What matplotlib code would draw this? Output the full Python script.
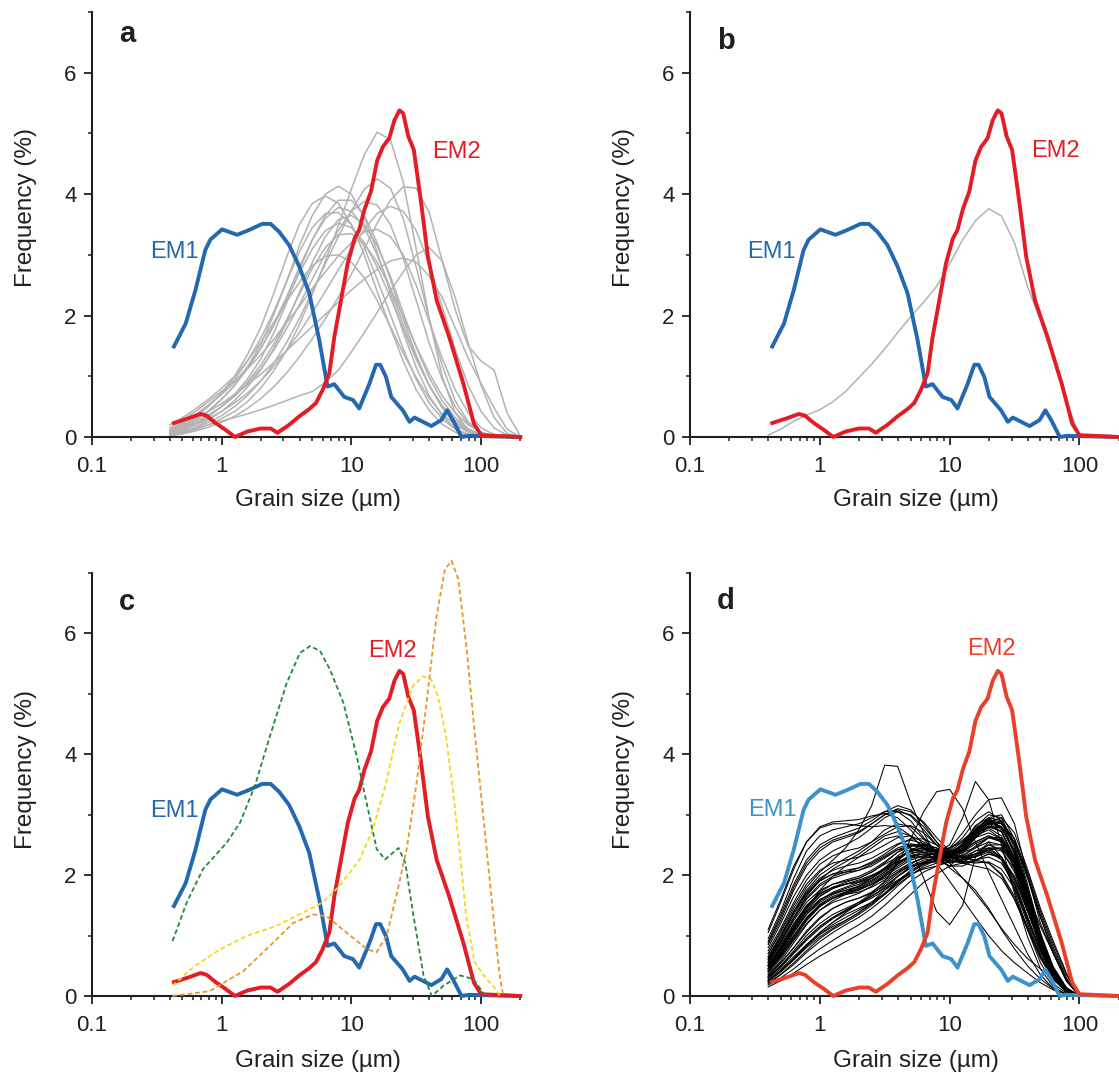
import matplotlib
matplotlib.use("Agg")
import matplotlib.pyplot as plt
from matplotlib.ticker import FixedLocator, NullFormatter

plt.rcParams['font.family'] = ['Liberation Sans', 'DejaVu Sans']

# ---- end members ----
em1_x = [0.43, 0.53, 0.63, 0.75, 0.82, 1.01, 1.32, 1.63, 2.06, 2.39, 2.78, 3.32, 3.97, 4.74, 5.66,
         6.56, 7.39, 8.83, 10.3, 11.5, 13.8, 15.5, 16.7, 18.5, 20.3, 24.9, 28.1, 30.7, 35.6, 41.3,
         49.4, 54.7, 60.9, 70.6, 80, 200]
em1_y = [1.49, 1.87, 2.42, 3.08, 3.25, 3.42, 3.33, 3.41, 3.51, 3.51, 3.38, 3.16, 2.81, 2.37, 1.60,
         0.83, 0.87, 0.66, 0.61, 0.47, 0.88, 1.19, 1.19, 0.99, 0.66, 0.44, 0.25, 0.32, 0.25, 0.18,
         0.28, 0.44, 0.27, 0.0, 0.02, 0.0]

em2_x = [0.43, 0.56, 0.69, 0.77, 0.90, 1.07, 1.27, 1.58, 2.0, 2.39, 2.70, 3.32, 3.97, 4.74, 5.34,
         6.0, 6.77, 7.4, 8.34, 9.38, 10.6, 11.5, 12.6, 14.2, 15.8, 17.5, 19.6, 21.5, 23.5, 25.1,
         27.5, 30.3, 34.3, 38.9, 45.5, 56.7, 73, 88, 100, 200]
em2_y = [0.23, 0.31, 0.38, 0.35, 0.23, 0.12, 0.0, 0.09, 0.14, 0.14, 0.07, 0.20, 0.34, 0.46, 0.56,
         0.77, 1.05, 1.65, 2.26, 2.86, 3.27, 3.41, 3.74, 4.05, 4.55, 4.78, 4.92, 5.22, 5.38, 5.33,
         4.95, 4.73, 3.90, 2.97, 2.25, 1.65, 0.88, 0.22, 0.03, 0.0]

# ---- panel a / b: sample curves on a common size grid ----
grid = [0.4, 0.5, 0.63, 0.79, 1.0, 1.26, 1.58, 2.0, 2.51, 3.16, 3.98, 5.01, 6.31, 7.94,
        10.0, 12.6, 15.8, 20.0, 25.1, 31.6, 39.8, 50.1, 63.1, 79.4, 100, 126, 158, 200]

a01 = [0.05, 0.15, 0.27, 0.42, 0.62, 0.85, 1.15, 1.52, 2.0, 2.55, 3.15, 3.65, 4.0, 4.13, 4.0, 3.62, 3.05, 2.38, 1.72, 1.15, 0.68, 0.35, 0.14, 0.04, 0, 0, 0, 0]
a02 = [0.08, 0.18, 0.32, 0.5, 0.72, 1.0, 1.35, 1.8, 2.35, 2.95, 3.5, 3.85, 3.97, 3.85, 3.5, 3.0, 2.4, 1.8, 1.25, 0.78, 0.44, 0.21, 0.08, 0.02, 0, 0, 0, 0]
a03 = [0.03, 0.1, 0.2, 0.33, 0.5, 0.7, 0.95, 1.28, 1.7, 2.2, 2.75, 3.25, 3.65, 3.9, 3.9, 3.65, 3.2, 2.6, 1.95, 1.35, 0.85, 0.48, 0.22, 0.08, 0.02, 0, 0, 0]
a04 = [0.06, 0.16, 0.28, 0.43, 0.62, 0.85, 1.12, 1.45, 1.85, 2.3, 2.8, 3.25, 3.6, 3.78, 3.72, 3.45, 3.0, 2.45, 1.85, 1.3, 0.85, 0.5, 0.25, 0.1, 0.03, 0, 0, 0]
a05 = [0.1, 0.22, 0.36, 0.52, 0.72, 0.95, 1.25, 1.62, 2.05, 2.55, 3.05, 3.45, 3.68, 3.7, 3.5, 3.12, 2.6, 2.02, 1.45, 0.95, 0.56, 0.3, 0.13, 0.04, 0, 0, 0, 0]
a06 = [0.02, 0.08, 0.16, 0.28, 0.42, 0.6, 0.82, 1.1, 1.45, 1.88, 2.38, 2.88, 3.3, 3.58, 3.65, 3.5, 3.15, 2.65, 2.05, 1.48, 0.98, 0.6, 0.32, 0.14, 0.04, 0, 0, 0]
a07 = [0.12, 0.24, 0.37, 0.52, 0.7, 0.9, 1.15, 1.45, 1.82, 2.25, 2.7, 3.1, 3.4, 3.52, 3.45, 3.2, 2.8, 2.3, 1.78, 1.28, 0.85, 0.52, 0.28, 0.12, 0.04, 0, 0, 0]
a08 = [0.04, 0.12, 0.22, 0.35, 0.5, 0.68, 0.9, 1.18, 1.52, 1.92, 2.35, 2.78, 3.12, 3.33, 3.35, 3.18, 2.88, 2.45, 1.98, 1.5, 1.05, 0.68, 0.4, 0.2, 0.08, 0.02, 0, 0]
a09 = [0.2, 0.32, 0.46, 0.62, 0.8, 1.0, 1.25, 1.55, 1.88, 2.22, 2.55, 2.82, 2.98, 3.0, 2.88, 2.62, 2.25, 1.82, 1.38, 0.98, 0.64, 0.38, 0.2, 0.08, 0.02, 0, 0, 0]
a10 = [0.02, 0.06, 0.12, 0.2, 0.3, 0.42, 0.58, 0.8, 1.08, 1.42, 1.85, 2.35, 2.9, 3.48, 4.08, 4.65, 5.02, 4.9, 4.2, 3.1, 1.95, 1.0, 0.4, 0.12, 0.02, 0, 0, 0]
a11 = [0.03, 0.08, 0.15, 0.24, 0.35, 0.5, 0.68, 0.92, 1.2, 1.55, 1.95, 2.4, 2.85, 3.3, 3.72, 4.08, 4.25, 4.1, 3.6, 2.8, 1.95, 1.18, 0.6, 0.25, 0.07, 0, 0, 0]
a12 = [0.15, 0.28, 0.42, 0.58, 0.75, 0.92, 1.12, 1.35, 1.6, 1.88, 2.15, 2.45, 2.72, 2.98, 3.2, 3.38, 3.42, 3.3, 3.0, 2.5, 1.9, 1.3, 0.78, 0.4, 0.15, 0.04, 0, 0]
a13 = [0.06, 0.14, 0.24, 0.36, 0.5, 0.67, 0.88, 1.12, 1.42, 1.78, 2.18, 2.6, 3.02, 3.4, 3.72, 3.88, 3.82, 3.5, 2.95, 2.25, 1.55, 0.95, 0.5, 0.22, 0.07, 0, 0, 0]
a14 = [0.02, 0.05, 0.1, 0.16, 0.24, 0.34, 0.47, 0.63, 0.82, 1.05, 1.32, 1.62, 1.95, 2.3, 2.68, 3.1, 3.52, 3.9, 4.12, 4.1, 3.7, 2.9, 2.1, 1.5, 1.25, 1.1, 0.4, 0.02]
a15 = [0.05, 0.12, 0.2, 0.3, 0.42, 0.56, 0.72, 0.92, 1.15, 1.42, 1.72, 2.05, 2.4, 2.75, 3.1, 3.42, 3.68, 3.8, 3.72, 3.4, 2.85, 2.15, 1.45, 0.85, 0.42, 0.15, 0.03, 0]
a16 = [0.03, 0.08, 0.13, 0.2, 0.26, 0.32, 0.38, 0.45, 0.52, 0.6, 0.68, 0.75, 0.9, 1.1, 1.4, 1.72, 2.05, 2.4, 2.72, 3.0, 3.12, 2.9, 2.3, 1.55, 0.85, 0.32, 0.06, 0]
a17 = [0.1, 0.2, 0.3, 0.42, 0.55, 0.7, 0.86, 1.03, 1.22, 1.42, 1.62, 1.82, 2.02, 2.22, 2.42, 2.6, 2.76, 2.9, 2.95, 2.88, 2.65, 2.3, 1.8, 1.3, 0.88, 0.48, 0.13, 0]
samples_a = [a01, a02, a03, a04, a05, a06, a07, a08, a09, a10, a11, a12, a13, a14, a15, a16, a17]

b_gray = [0.03, 0.13, 0.26, 0.36, 0.45, 0.58, 0.75, 0.98, 1.2, 1.45, 1.72, 1.98, 2.22, 2.48, 2.85, 3.25, 3.56, 3.76, 3.64, 3.2, 2.48, 1.92, 1.3, 0.58, 0.03, 0, 0, 0]

# ---- panel c: dashed reference curves ----
green_x = [0.42, 0.54, 0.72, 1.10, 1.39, 1.81, 2.36, 3.18, 4.03, 4.81, 5.74, 6.86, 8.69, 11.0, 13.1,
           15.7, 18.2, 23.1, 26.0, 30.1, 36.0, 41.7, 51.3, 68.9, 87.3, 107, 120]
green_y = [0.91, 1.55, 2.10, 2.54, 2.87, 3.48, 4.30, 5.18, 5.68, 5.79, 5.71, 5.40, 4.85, 3.97, 3.20,
           2.43, 2.26, 2.45, 2.21, 1.33, 0.34, 0.0, 0.17, 0.34, 0.28, 0.01, 0.0]
yellow_x = [0.42, 0.60, 0.97, 1.55, 2.64, 4.24, 6.04, 8.11, 11.6, 14.6, 18.5, 23.5, 29.8, 35.6, 41.2,
            46.4, 53.7, 60.5, 68.1, 76.6, 88.9, 109, 125, 140]
yellow_y = [0.17, 0.47, 0.77, 0.99, 1.16, 1.38, 1.55, 1.82, 2.26, 2.75, 3.52, 4.52, 5.13, 5.29, 5.24,
            4.96, 4.30, 3.42, 2.43, 1.33, 0.56, 0.29, 0.15, 0.0]
orange_x = [0.42, 0.81, 1.47, 2.36, 3.57, 5.09, 6.45, 9.19, 13.1, 15.6, 18.7, 22.3, 26.7, 31.9, 38.0,
            45.4, 52.6, 59.2, 66.7, 77.4, 89.8, 107, 118, 130, 140, 148]
orange_y = [0.0, 0.08, 0.41, 0.83, 1.21, 1.35, 1.32, 1.05, 0.78, 0.72, 1.00, 1.67, 2.43, 3.54, 4.86,
            6.29, 7.06, 7.20, 6.90, 5.74, 4.30, 2.71, 1.80, 0.90, 0.30, 0.0]

# ---- panel d: measured samples ----
grid_d = [0.4, 0.5, 0.63, 0.79, 1.0, 1.26, 1.58, 2.0, 2.51, 3.16, 3.98, 5.01, 6.31, 7.94,
          10.0, 12.6, 15.8, 20.0, 25.1, 31.6, 39.8, 50.1, 63.1, 79.4, 100]

d01 = [1.05, 1.55, 2.1, 2.55, 2.8, 2.88, 2.9, 2.92, 2.98, 3.02, 2.95, 2.75, 2.5, 2.3, 2.2, 2.25, 2.4, 2.45, 2.3, 1.85, 1.25, 0.7, 0.3, 0.08, 0.0]
d02 = [0.95, 1.4, 1.95, 2.4, 2.65, 2.75, 2.8, 2.85, 2.95, 3.05, 3.05, 2.9, 2.62, 2.38, 2.25, 2.2, 2.22, 2.2, 2.0, 1.6, 1.1, 0.62, 0.27, 0.07, 0.0]
d03 = [0.9, 1.35, 1.85, 2.25, 2.5, 2.62, 2.7, 2.78, 2.9, 3.05, 3.15, 3.08, 2.85, 2.55, 2.3, 2.2, 2.25, 2.35, 2.3, 1.95, 1.4, 0.82, 0.38, 0.1, 0.0]
d04 = [1.1, 1.6, 2.15, 2.55, 2.78, 2.85, 2.85, 2.82, 2.8, 2.82, 2.8, 2.65, 2.45, 2.3, 2.3, 2.45, 2.65, 2.75, 2.6, 2.1, 1.45, 0.8, 0.35, 0.1, 0.0]
d05 = [0.85, 1.25, 1.75, 2.15, 2.4, 2.55, 2.62, 2.7, 2.85, 3.0, 3.1, 3.05, 2.88, 2.62, 2.4, 2.28, 2.3, 2.42, 2.45, 2.2, 1.7, 1.15, 0.7, 0.25, 0.0]
d06 = [0.8, 1.2, 1.65, 2.0, 2.25, 2.4, 2.5, 2.62, 2.78, 2.95, 3.05, 3.0, 2.8, 2.55, 2.32, 2.2, 2.15, 2.1, 1.95, 1.6, 1.12, 0.65, 0.3, 0.08, 0.0]
d07 = [0.7, 1.05, 1.45, 1.8, 2.05, 2.25, 2.45, 2.75, 3.15, 3.82, 3.8, 3.2, 2.7, 2.3, 2.15, 2.2, 2.35, 2.4, 2.25, 1.8, 1.2, 0.65, 0.28, 0.07, 0.0]
d08 = [0.3, 0.5, 0.72, 0.95, 1.15, 1.3, 1.42, 1.55, 1.7, 1.9, 2.2, 2.6, 3.05, 3.38, 3.42, 3.1, 2.55, 2.05, 1.6, 1.15, 0.7, 0.35, 0.12, 0.03, 0.0]
d09 = [0.45, 0.75, 1.1, 1.45, 1.75, 1.98, 2.15, 2.3, 2.45, 2.6, 2.65, 2.45, 1.95, 1.4, 1.18, 1.5, 2.3, 2.55, 2.3, 1.75, 1.1, 0.55, 0.2, 0.05, 0.0]
d10 = [0.25, 0.42, 0.62, 0.85, 1.05, 1.22, 1.38, 1.52, 1.68, 1.85, 2.02, 2.18, 2.3, 2.38, 2.5, 2.95, 3.55, 3.25, 2.5, 1.7, 0.98, 0.45, 0.15, 0.03, 0.0]
d11 = [0.3, 0.5, 0.75, 1.0, 1.2, 1.35, 1.45, 1.55, 1.65, 1.78, 1.92, 2.05, 2.18, 2.3, 2.45, 2.7, 3.0, 3.25, 3.28, 2.85, 2.0, 1.2, 0.7, 0.25, 0.0]
d12 = [0.55, 0.9, 1.3, 1.65, 1.92, 2.1, 2.22, 2.35, 2.5, 2.65, 2.72, 2.65, 2.45, 2.2, 1.9, 1.6, 1.3, 1.0, 0.75, 0.55, 0.38, 0.22, 0.1, 0.03, 0.0]
d13 = [0.65, 1.0, 1.4, 1.75, 2.0, 2.15, 2.28, 2.4, 2.55, 2.75, 2.85, 2.8, 2.6, 2.35, 2.12, 1.95, 1.75, 1.45, 1.1, 0.78, 0.5, 0.28, 0.12, 0.03, 0.0]
d14 = [0.4, 0.65, 0.95, 1.25, 1.48, 1.62, 1.72, 1.82, 1.95, 2.1, 2.28, 2.42, 2.45, 2.38, 2.2, 1.95, 1.7, 1.42, 1.12, 0.85, 0.62, 0.45, 0.28, 0.1, 0.0]
d15 = [0.5, 0.8, 1.15, 1.45, 1.65, 1.78, 1.85, 1.92, 2.0, 2.1, 2.22, 2.32, 2.35, 2.35, 2.38, 2.48, 2.62, 2.7, 2.6, 2.2, 1.55, 0.88, 0.38, 0.1, 0.0]
d16 = [0.55, 0.88, 1.25, 1.55, 1.75, 1.85, 1.9, 1.95, 2.05, 2.2, 2.38, 2.5, 2.5, 2.42, 2.38, 2.42, 2.55, 2.65, 2.55, 2.12, 1.48, 0.82, 0.35, 0.09, 0.0]
d17 = [0.45, 0.72, 1.05, 1.35, 1.55, 1.68, 1.75, 1.82, 1.92, 2.05, 2.2, 2.32, 2.38, 2.4, 2.45, 2.58, 2.75, 2.85, 2.72, 2.28, 1.6, 0.9, 0.4, 0.11, 0.0]
d18 = [0.6, 0.95, 1.35, 1.68, 1.9, 2.02, 2.08, 2.12, 2.2, 2.32, 2.45, 2.52, 2.48, 2.38, 2.3, 2.3, 2.4, 2.5, 2.42, 2.05, 1.45, 0.82, 0.36, 0.1, 0.0]
d19 = [0.4, 0.65, 0.95, 1.25, 1.48, 1.62, 1.7, 1.78, 1.88, 2.02, 2.18, 2.3, 2.35, 2.35, 2.38, 2.5, 2.7, 2.88, 2.85, 2.55, 1.95, 1.3, 0.75, 0.28, 0.0]
d20 = [0.5, 0.8, 1.12, 1.4, 1.6, 1.7, 1.75, 1.8, 1.9, 2.05, 2.25, 2.42, 2.5, 2.45, 2.35, 2.3, 2.35, 2.45, 2.4, 2.1, 1.55, 0.92, 0.42, 0.12, 0.0]
d21 = [0.65, 1.0, 1.4, 1.72, 1.95, 2.08, 2.15, 2.2, 2.28, 2.4, 2.52, 2.58, 2.52, 2.4, 2.3, 2.28, 2.35, 2.42, 2.3, 1.9, 1.32, 0.75, 0.32, 0.08, 0.0]
d22 = [0.42, 0.68, 1.0, 1.3, 1.52, 1.65, 1.72, 1.78, 1.85, 1.95, 2.08, 2.2, 2.28, 2.32, 2.42, 2.62, 2.9, 3.05, 2.9, 2.35, 1.6, 0.88, 0.38, 0.1, 0.0]
d23 = [0.55, 0.85, 1.2, 1.5, 1.7, 1.8, 1.85, 1.88, 1.95, 2.08, 2.25, 2.4, 2.45, 2.4, 2.32, 2.32, 2.45, 2.62, 2.62, 2.3, 1.68, 0.98, 0.42, 0.11, 0.0]
d24 = [0.48, 0.76, 1.08, 1.38, 1.58, 1.7, 1.78, 1.85, 1.95, 2.12, 2.32, 2.48, 2.52, 2.45, 2.35, 2.28, 2.25, 2.2, 2.02, 1.65, 1.15, 0.66, 0.3, 0.08, 0.0]
d25 = [0.38, 0.62, 0.92, 1.2, 1.42, 1.55, 1.62, 1.7, 1.82, 1.98, 2.15, 2.28, 2.32, 2.3, 2.32, 2.45, 2.68, 2.82, 2.72, 2.25, 1.55, 0.85, 0.36, 0.09, 0.0]
d26 = [0.62, 0.98, 1.38, 1.7, 1.92, 2.02, 2.05, 2.08, 2.15, 2.28, 2.42, 2.5, 2.45, 2.32, 2.22, 2.22, 2.32, 2.45, 2.45, 2.15, 1.6, 0.95, 0.45, 0.13, 0.0]
d27 = [0.45, 0.7, 1.0, 1.28, 1.5, 1.62, 1.68, 1.72, 1.8, 1.92, 2.05, 2.15, 2.2, 2.22, 2.3, 2.5, 2.8, 3.0, 2.95, 2.5, 1.78, 1.0, 0.42, 0.11, 0.0]
d28 = [0.52, 0.82, 1.18, 1.48, 1.68, 1.8, 1.88, 1.95, 2.05, 2.18, 2.3, 2.38, 2.38, 2.32, 2.28, 2.32, 2.48, 2.62, 2.58, 2.25, 1.62, 0.92, 0.4, 0.1, 0.0]
d29 = [0.58, 0.9, 1.28, 1.6, 1.82, 1.95, 2.02, 2.08, 2.18, 2.3, 2.42, 2.45, 2.38, 2.25, 2.15, 2.15, 2.25, 2.35, 2.28, 1.95, 1.42, 0.82, 0.36, 0.09, 0.0]
d30 = [0.35, 0.58, 0.88, 1.18, 1.42, 1.58, 1.68, 1.75, 1.85, 2.0, 2.18, 2.35, 2.42, 2.42, 2.45, 2.55, 2.7, 2.78, 2.65, 2.2, 1.52, 0.85, 0.36, 0.09, 0.0]
d31 = [0.5, 0.78, 1.1, 1.42, 1.65, 1.78, 1.85, 1.9, 1.98, 2.1, 2.22, 2.3, 2.3, 2.28, 2.32, 2.52, 2.82, 2.95, 2.75, 2.2, 1.48, 0.8, 0.34, 0.09, 0.0]
d32 = [0.7, 1.08, 1.5, 1.85, 2.08, 2.2, 2.25, 2.3, 2.38, 2.5, 2.62, 2.65, 2.55, 2.38, 2.25, 2.2, 2.25, 2.3, 2.2, 1.85, 1.3, 0.75, 0.33, 0.09, 0.0]
d33 = [0.25, 0.4, 0.6, 0.82, 1.02, 1.18, 1.3, 1.42, 1.55, 1.7, 1.88, 2.05, 2.18, 2.25, 2.32, 2.48, 2.72, 2.9, 2.85, 2.6, 2.0, 1.3, 0.7, 0.25, 0.0]
d34 = [0.2, 0.35, 0.52, 0.72, 0.9, 1.05, 1.18, 1.3, 1.45, 1.62, 1.82, 2.0, 2.15, 2.25, 2.35, 2.52, 2.75, 2.92, 2.88, 2.5, 1.8, 1.02, 0.44, 0.12, 0.0]
d35 = [0.3, 0.48, 0.7, 0.92, 1.12, 1.28, 1.4, 1.52, 1.65, 1.8, 1.98, 2.12, 2.22, 2.28, 2.35, 2.5, 2.68, 2.8, 2.72, 2.3, 1.62, 0.9, 0.38, 0.1, 0.0]
d36 = [0.22, 0.36, 0.55, 0.75, 0.95, 1.1, 1.22, 1.35, 1.5, 1.68, 1.88, 2.05, 2.18, 2.25, 2.3, 2.42, 2.62, 2.8, 2.8, 2.55, 2.0, 1.35, 0.8, 0.3, 0.0]
d37 = [0.28, 0.45, 0.65, 0.85, 1.02, 1.15, 1.25, 1.38, 1.55, 1.75, 1.98, 2.15, 2.25, 2.28, 2.3, 2.38, 2.52, 2.62, 2.55, 2.2, 1.58, 0.9, 0.4, 0.11, 0.0]
d38 = [0.18, 0.3, 0.45, 0.62, 0.78, 0.92, 1.05, 1.18, 1.32, 1.5, 1.7, 1.9, 2.05, 2.15, 2.25, 2.42, 2.65, 2.85, 2.88, 2.6, 2.05, 1.4, 0.85, 0.35, 0.0]
d39 = [0.32, 0.5, 0.72, 0.95, 1.15, 1.3, 1.42, 1.52, 1.62, 1.75, 1.9, 2.02, 2.1, 2.15, 2.22, 2.38, 2.62, 2.8, 2.78, 2.38, 1.68, 0.95, 0.4, 0.1, 0.0]
d40 = [0.15, 0.25, 0.38, 0.52, 0.66, 0.78, 0.9, 1.02, 1.15, 1.3, 1.48, 1.68, 1.88, 2.02, 2.15, 2.35, 2.62, 2.88, 2.95, 2.7, 2.1, 1.45, 0.9, 0.38, 0.0]
d41 = [0.26, 0.42, 0.62, 0.84, 1.05, 1.22, 1.35, 1.45, 1.55, 1.68, 1.85, 2.0, 2.12, 2.2, 2.28, 2.45, 2.7, 2.95, 3.0, 2.6, 1.85, 1.05, 0.45, 0.12, 0.0]
d42 = [0.35, 0.55, 0.8, 1.05, 1.28, 1.45, 1.55, 1.62, 1.7, 1.82, 1.98, 2.12, 2.22, 2.28, 2.32, 2.4, 2.55, 2.65, 2.58, 2.2, 1.55, 0.88, 0.38, 0.1, 0.0]
d43 = [0.6, 0.92, 1.3, 1.62, 1.85, 1.98, 2.05, 2.12, 2.22, 2.35, 2.5, 2.6, 2.6, 2.5, 2.4, 2.38, 2.45, 2.55, 2.5, 2.15, 1.55, 0.9, 0.4, 0.11, 0.0]
d44 = [0.42, 0.68, 0.98, 1.28, 1.5, 1.62, 1.7, 1.76, 1.85, 1.98, 2.12, 2.25, 2.32, 2.35, 2.4, 2.55, 2.78, 2.92, 2.8, 2.35, 1.68, 0.98, 0.45, 0.13, 0.0]
d45 = [0.75, 1.12, 1.55, 1.92, 2.18, 2.32, 2.4, 2.45, 2.55, 2.68, 2.8, 2.82, 2.7, 2.5, 2.32, 2.22, 2.2, 2.22, 2.1, 1.78, 1.28, 0.75, 0.34, 0.09, 0.0]
d46 = [0.33, 0.54, 0.8, 1.08, 1.3, 1.45, 1.55, 1.62, 1.72, 1.88, 2.05, 2.2, 2.28, 2.3, 2.35, 2.5, 2.75, 2.95, 2.9, 2.45, 1.72, 0.98, 0.42, 0.11, 0.0]
d47 = [0.5, 0.8, 1.15, 1.48, 1.72, 1.85, 1.92, 1.98, 2.08, 2.22, 2.38, 2.48, 2.48, 2.4, 2.3, 2.25, 2.3, 2.38, 2.3, 1.98, 1.45, 0.85, 0.38, 0.1, 0.0]
d48 = [0.24, 0.4, 0.6, 0.8, 0.98, 1.12, 1.25, 1.38, 1.52, 1.7, 1.9, 2.08, 2.2, 2.28, 2.35, 2.5, 2.7, 2.85, 2.8, 2.4, 1.72, 0.98, 0.42, 0.11, 0.0]
d49 = [0.88, 1.3, 1.8, 2.2, 2.45, 2.58, 2.65, 2.72, 2.85, 3.0, 3.08, 2.98, 2.75, 2.5, 2.3, 2.25, 2.35, 2.5, 2.5, 2.2, 1.62, 0.98, 0.45, 0.13, 0.0]
d50 = [0.45, 0.72, 1.05, 1.35, 1.58, 1.72, 1.8, 1.88, 1.98, 2.12, 2.28, 2.4, 2.42, 2.38, 2.38, 2.5, 2.72, 2.88, 2.8, 2.4, 1.75, 1.02, 0.48, 0.14, 0.0]
samples_d = [d01, d02, d03, d04, d05, d06, d07, d08, d09, d10, d11, d12, d13, d14,
             d15, d16, d17, d18, d19, d20, d21, d22, d23, d24, d25, d26, d27, d28,
             d29, d30, d31, d32, d33, d34, d35, d36, d37, d38, d39, d40, d41, d42,
             d43, d44, d45, d46, d47, d48, d49, d50]

# colours
blue = '#2468b2'
red = '#e31d25'
blue_d = '#3c92cc'
red_d = '#e8402b'
gray = '#b3b3b3'
ink = '#231f20'

W, H = 1119, 1077
fig = plt.figure(figsize=(W / 100, H / 100), dpi=100)

# axes rectangles in pixels: left, y of x-axis, y of top (y=7)
rects = {'a': (91.7, 437, 12), 'b': (690, 437, 12), 'c': (91.7, 996, 573), 'd': (690, 996, 573)}
axw = 428.5


def make_axes(key):
    left, y0, y7 = rects[key]
    ax = fig.add_axes([left / W, (H - y0) / H, axw / W, (y0 - y7) / H])
    ax.set_xscale('log')
    ax.set_xlim(0.1, 200)
    ax.set_ylim(0, 7)
    for s in ['top', 'right']:
        ax.spines[s].set_visible(False)
    for s in ['left', 'bottom']:
        ax.spines[s].set_linewidth(1.5)
        ax.spines[s].set_color(ink)
    ax.xaxis.set_major_locator(FixedLocator([0.1, 1, 10, 100]))
    ax.set_xticklabels(['0.1', '1', '10', '100'])
    minors = [k * 10.0 ** e for e in (-1, 0, 1) for k in range(2, 10)] + [200]
    ax.xaxis.set_minor_locator(FixedLocator(minors))
    ax.xaxis.set_minor_formatter(NullFormatter())
    ax.yaxis.set_major_locator(FixedLocator([0, 2, 4, 6]))
    ax.yaxis.set_minor_locator(FixedLocator([1, 3, 5, 7]))
    ax.tick_params(which='major', direction='out', length=6, width=1.3, color=ink,
                   labelsize=16, labelcolor=ink)
    ax.tick_params(which='minor', direction='out', length=3, width=1.1, color=ink)
    ax.tick_params(axis='x', which='major', pad=8)
    ax.tick_params(axis='y', which='major', pad=5)
    ax.set_xlabel('Grain size (µm)', fontsize=17.5, color=ink)
    ax.set_ylabel('Frequency (%)', fontsize=17.5, color=ink)
    ax.xaxis.set_label_coords(0.528, -0.122 if key in 'ab' else -0.127)
    ax.yaxis.set_label_coords(-0.128, 0.541 if key in 'ab' else 0.535)
    return ax


def draw_em(ax, c1, c2, em1_pos, em2_pos):
    ax.plot(em1_x, em1_y, color=c1, lw=2.8, solid_joinstyle='round', clip_on=False, zorder=5)
    ax.plot(em2_x, em2_y, color=c2, lw=2.8, solid_joinstyle='round', clip_on=False, zorder=6)
    ax.text(em1_pos[0], em1_pos[1], 'EM1', color=c1, fontsize=17, ha='left', va='baseline')
    ax.text(em2_pos[0], em2_pos[1], 'EM2', color=c2, fontsize=17, ha='left', va='baseline')


letter_y = {'a': 0.929, 'b': 0.913, 'c': 0.913, 'd': 0.916}

# a
ax = make_axes('a')
for s in samples_a:
    ax.plot(grid, s, color=gray, lw=1.1, zorder=2)
draw_em(ax, blue, red, (0.28, 2.95), (42, 4.6))
ax.text(0.063, letter_y['a'], 'a', transform=ax.transAxes, fontsize=21, fontweight='bold', color=ink)

# b
ax = make_axes('b')
ax.plot(grid, b_gray, color=gray, lw=1.1, zorder=2)
draw_em(ax, blue, red, (0.277, 2.95), (42.4, 4.61))
ax.text(0.063, letter_y['b'], 'b', transform=ax.transAxes, fontsize=21, fontweight='bold', color=ink)

# c
ax = make_axes('c')
draw_em(ax, blue, red, (0.28, 2.96), (13.5, 5.61))
dash = (0, (2.6, 1.6))
ax.plot(green_x, green_y, color='#1f8a3b', lw=1.3, ls=dash, zorder=7)
ax.plot(yellow_x, yellow_y, color='#f2d81d', lw=1.3, ls=dash, zorder=7)
ax.plot(orange_x, orange_y, color='#e8962d', lw=1.3, ls=dash, zorder=7, clip_on=False)
ax.text(0.063, letter_y['c'], 'c', transform=ax.transAxes, fontsize=21, fontweight='bold', color=ink)

# d
ax = make_axes('d')
for s in samples_d:
    ax.plot(grid_d, s, color='black', lw=0.75, zorder=2)
draw_em(ax, blue_d, red_d, (0.28, 2.98), (13.6, 5.65))
ax.text(0.063, letter_y['d'], 'd', transform=ax.transAxes, fontsize=21, fontweight='bold', color=ink)

fig.savefig('out.png', dpi=100)
